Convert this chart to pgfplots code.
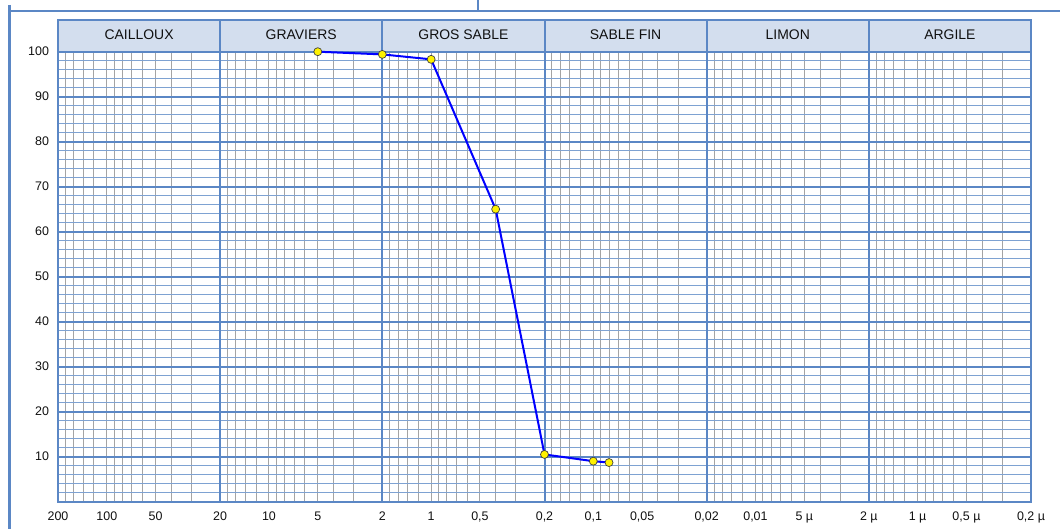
\documentclass[border=0pt]{standalone}
\usepackage{fontspec}
\setmainfont{Liberation Sans}
\usepackage{pgfplots}
\pgfplotsset{compat=1.18}
\definecolor{gblue}{HTML}{5B87C5}
\definecolor{gminblue}{HTML}{7EA2D2}
\definecolor{ggray}{HTML}{A4A4A4}
\definecolor{hfill}{HTML}{D3DEEE}
\definecolor{ctext}{HTML}{101010}
\begin{document}
\begin{tikzpicture}
\useasboundingbox (0bp,0bp) rectangle (1060bp,529bp);
% outer frame
\draw[gblue,line width=3bp] (9bp,524bp) -- (9bp,0bp);
\draw[gblue,line width=2bp] (9bp,518bp) -- (1060bp,518bp);
\draw[gblue,line width=2bp] (478bp,529bp) -- (478bp,519bp);
% header band
\fill[hfill] (58bp,477.3bp) rectangle (1031bp,509bp);
\foreach \i/\name in {0/CAILLOUX,1/GRAVIERS,2/GROS SABLE,3/SABLE FIN,4/LIMON,5/ARGILE} {
  \node[anchor=base, inner sep=0pt, font=\fontsize{14}{16}\selectfont, text=ctext] at ({(58+162.1667*(\i+0.5))*1bp},489bp) {\name};
}
\foreach \i in {1,...,5} {\draw[gblue,line width=2bp] ({(58+162.1667*\i)*1bp},477.3bp) -- ({(58+162.1667*\i)*1bp},509bp);}
\draw[gblue,line width=2bp] (58bp,477.3bp) rectangle (1031bp,509bp);
\begin{axis}[
  at={(58bp,27.3bp)}, anchor=south west,
  scale only axis, width=973bp, height=450bp,
  xmode=log, x dir=reverse,
  xmin=0.0002, xmax=200, ymin=0, ymax=100,
  clip=false,
  axis line style={gblue,line width=2bp},
  major tick length=0pt, minor tick length=0pt,
  tick style={draw=none},
  xtick={200,100,50,20,10,5,2,1,0.5,0.2,0.1,0.05,0.02,0.01,0.005,0.002,0.001,0.0005,0.0002},
  xticklabels={200,100,50,20,10,5,2,1,{0,5},{0,2},{0,1},{0,05},{0,02},{0,01},5 µ,2 µ,1 µ,{0,5 µ},{0,2 µ}},
  minor xtick={0.0003,0.0004,0.0005,0.0006,0.0007,0.0008,0.0009,0.001,0.0012,0.0014,0.0016,0.0018,
    0.003,0.004,0.005,0.006,0.007,0.008,0.009,0.01,0.012,0.014,0.016,0.018,
    0.03,0.04,0.05,0.06,0.07,0.08,0.09,0.1,0.12,0.14,0.16,0.18,
    0.3,0.4,0.5,0.6,0.7,0.8,0.9,1,1.2,1.4,1.6,1.8,
    3,4,5,6,7,8,9,10,12,14,16,18,
    30,40,50,60,70,80,90,100,120,140,160,180},
  xmajorgrids=false, xminorgrids=true,
  minor x grid style={ggray,line width=1bp},
  extra x ticks={0.002,0.02,0.2,2,20},
  extra x tick labels={},
  extra x tick style={grid=major, major x grid style={gblue,line width=2bp}},
  ytick={10,20,30,40,50,60,70,80,90,100},
  yticklabels={10,20,30,40,50,60,70,80,90,100},
  minor ytick={2,4,6,8,12,14,16,18,22,24,26,28,32,34,36,38,42,44,46,48,52,54,56,58,62,64,66,68,72,74,76,78,82,84,86,88,92,94,96,98},
  ymajorgrids=true, yminorgrids=true,
  major y grid style={gblue,line width=2.2bp},
  minor y grid style={gminblue,line width=1.3bp},
  xticklabel style={font=\fontsize{12.5}{14}\selectfont, text=ctext, yshift=-7bp},
  yticklabel style={font=\fontsize{12.5}{14}\selectfont, text=ctext, xshift=-5.5bp},
]
\addplot[color={rgb,255:red,0;green,0;blue,255}, line width=2bp,
  mark=*, mark size=4bp,
  mark options={fill=yellow, draw=black!75, line width=0.7bp}]
  coordinates {(5,100) (2,99.4) (1,98.3) (0.4,65) (0.2,10.5) (0.1,9.0) (0.08,8.7)};
\end{axis}
\end{tikzpicture}
\end{document}
